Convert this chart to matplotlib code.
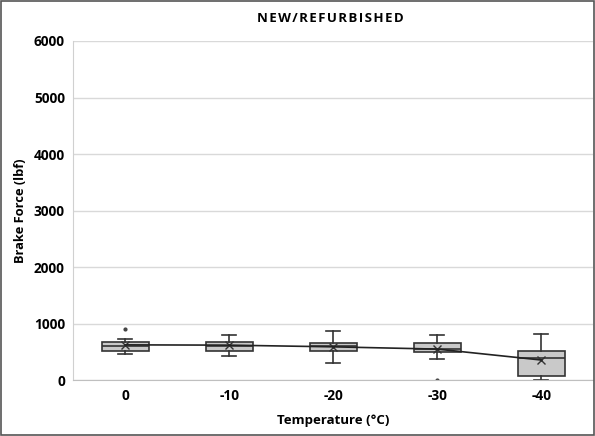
import matplotlib.pyplot as plt
from matplotlib.patches import Rectangle

plt.rcParams['font.family'] = ['Open Sans', 'DejaVu Sans']

temps = ['0', '-10', '-20', '-30', '-40']
q1 = [518, 518, 511, 493, 71]
med = [612, 612, 601, 553, 390]
q3 = [684, 672, 666, 654, 523]
whislo = [464, 429, 309, 375, 0]
whishi = [732, 804, 868, 804, 821]
means = [625, 620, 590, 550, 357]
fliers = [[910], [], [], [0], []]

stats = []
for i in range(len(temps)):
    stats.append(dict(label=temps[i], q1=q1[i], med=med[i], q3=q3[i],
                      whislo=whislo[i], whishi=whishi[i], mean=means[i],
                      fliers=fliers[i]))

fig = plt.figure(figsize=(5.95, 4.36), dpi=100)
ax = fig.add_axes([0.123, 0.128, 0.874, 0.778])

pos = list(range(len(temps)))
ax.bxp(stats, positions=pos, widths=0.45, patch_artist=True, showmeans=True,
       capwidths=0.13,
       boxprops=dict(facecolor='#c9c9c9', edgecolor='#333333', linewidth=1.2),
       medianprops=dict(color='#333333', linewidth=1.2),
       whiskerprops=dict(color='#333333', linewidth=1.2),
       capprops=dict(color='#333333', linewidth=1.2),
       meanprops=dict(marker='x', markeredgecolor='#333333', markersize=6),
       flierprops=dict(marker='o', markersize=2, markerfacecolor='#444444',
                       markeredgecolor='#444444'))
ax.plot(pos, means, color='#222222', linewidth=1.2, zorder=5)

ax.set_xlim(-0.5, len(temps) - 0.5)
ax.set_ylim(0, 6000)
ax.set_yticks(range(0, 6001, 1000))
ax.set_xticks(pos)
ax.set_xticklabels(temps)
ax.yaxis.grid(True, color='#d9d9d9', linewidth=1)
ax.set_axisbelow(True)
ax.tick_params(length=0, labelsize=9.8, pad=6)
for lbl in ax.get_xticklabels() + ax.get_yticklabels():
    lbl.set_fontweight('bold')
for s in ['top', 'right']:
    ax.spines[s].set_visible(False)
ax.spines['left'].set_color('#d0d0d0')
ax.spines['bottom'].set_color('#bfbfbf')

ax.set_ylabel('Brake Force (lbf)', fontsize=9.3, fontweight='bold', labelpad=5)
ax.set_xlabel('Temperature (°C)', fontsize=9.5, fontweight='bold', labelpad=8)
fig.text(0.555, 0.958, 'N E W / R E F U R B I S H E D'.replace(' ', '\u200a'),
         fontsize=9.5, fontweight='bold', ha='center', va='center')

fig.patches.append(Rectangle((0.002, 0.002), 0.996, 0.996, transform=fig.transFigure,
                             fill=False, edgecolor='#555555', linewidth=1.2))

fig.savefig('out.png', dpi=100)
